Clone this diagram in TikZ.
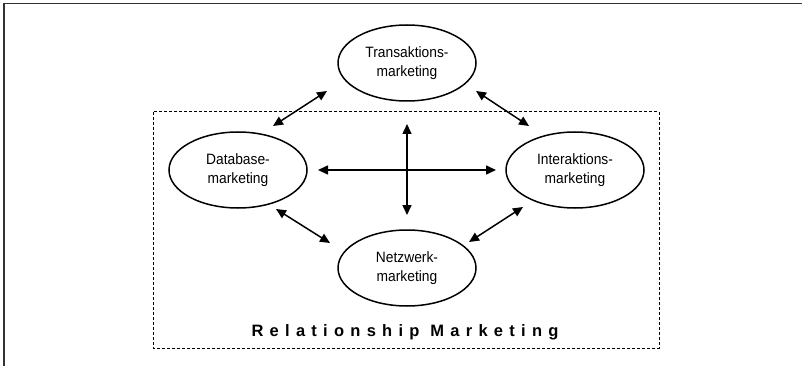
\documentclass[tikz,border=0pt]{standalone}
\usepackage{fontspec}
\setmainfont{Liberation Sans}
\newfontfamily\nodefont[FakeStretch=0.92]{Liberation Sans}
\newfontfamily\titlefont[LetterSpace=38]{Liberation Sans}
\usetikzlibrary{shapes.geometric,arrows.meta}
\begin{document}
\begin{tikzpicture}[x=1pt,y=-1pt,
  bubble/.style={draw, line width=1.5pt, ellipse, minimum width=138pt, minimum height=76pt, inner sep=0pt, align=center, font=\nodefont\fontsize{15}{19}\selectfont},
  link/.style={line width=1.5pt, {Triangle[length=10pt,width=9pt]}-{Triangle[length=10pt,width=9pt]}},
  frame/.style={line width=1.3pt, draw=black!80},
  zone/.style={line width=1pt, dash pattern=on 3pt off 2pt}]
\useasboundingbox (0,0) rectangle (802,366);
\draw[frame] (4,366) -- (4,3.5) -- (802,3.5);
\draw[zone] (153,112) rectangle (659,348);
\node[bubble] (T) at (407,63) {Transaktions-\\marketing};
\node[bubble] (D) at (238,170) {Database-\\marketing};
\node[bubble] (I) at (575,170) {Interaktions-\\marketing};
\node[bubble] (N) at (407,268) {Netzwerk-\\marketing};
\node[font=\titlefont\bfseries\fontsize{16.5}{18}\selectfont] (R) at (405,332) {Relationship Marketing};
\coordinate (td1) at (327,91); \coordinate (td2) at (273,126);
\coordinate (ti1) at (476,91); \coordinate (ti2) at (529,126);
\coordinate (dn1) at (276,209); \coordinate (dn2) at (330,243);
\coordinate (in1) at (523,207); \coordinate (in2) at (469,242);
\coordinate (hl) at (318,170); \coordinate (hr) at (496,170);
\coordinate (vt) at (407,124); \coordinate (vb) at (407,215);
\draw[link] (td1) -- (td2);
\draw[link] (ti1) -- (ti2);
\draw[link] (dn1) -- (dn2);
\draw[link] (in1) -- (in2);
\draw[link] (hl) -- (hr);
\draw[link] (vt) -- (vb);
\end{tikzpicture}
\end{document}
